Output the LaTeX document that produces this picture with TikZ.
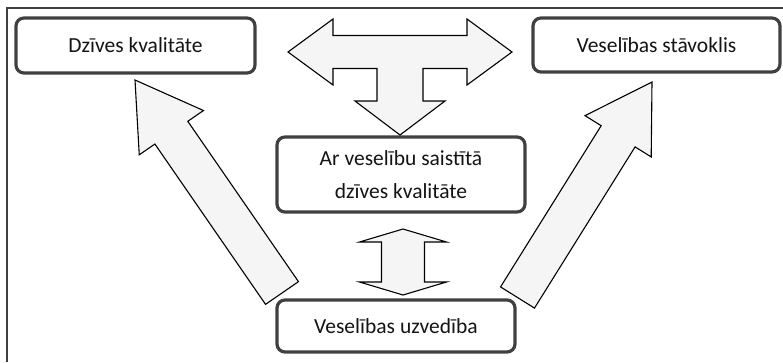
\documentclass[tikz,border=0pt]{standalone}
\usepackage{fontspec}
\setmainfont{Carlito}
\usepackage{xcolor}
\usepackage{tikz}
\usetikzlibrary{positioning, calc}
\definecolor{boxgray}{RGB}{64,64,64}
\definecolor{arrowfill}{RGB}{245,245,245}
\definecolor{textgray}{RGB}{20,20,20}

\begin{document}
\begin{tikzpicture}[x=1pt, y=-1pt,
    box/.style={rectangle, draw=boxgray, fill=white, line width=3.2pt, rounded corners=8pt, align=center, text=textgray, font=\fontsize{21.5}{33}\selectfont},
    barrow/.style={draw=black, fill=arrowfill, line width=1.1pt, line join=miter}
]
    \useasboundingbox (0,0) rectangle (783,362);

    % Frame
    \draw[boxgray, line width=1.6pt] (7,362) -- (7,8) -- (783,8);

    % Boxes
    \node[box, minimum width=239pt, minimum height=55pt] (dk) at (135.5,45.5) {Dzīves kvalitāte};
    \node[box, minimum width=247pt, minimum height=54pt] (vs) at (656.5,45) {Veselības stāvoklis};
    \node[box, minimum width=248pt, minimum height=75pt] (mid) at (401,174.5) {Ar veselību saistītā\\dzīves kvalitāte};
    \node[box, minimum width=238pt, minimum height=52pt] (vu) at (396,326) {Veselības uzvedība};

    % Arrow ends
    \coordinate (tee) at (400,52);
    \coordinate (dbl) at (403,262);
    \coordinate (ltail) at (282,293);
    \coordinate (ltip) at (135,80);
    \coordinate (rtail) at (517.5,297.5);
    \coordinate (rtip) at (652,82);
    \coordinate (lh) at ($(ltip)!64pt!(ltail)$);
    \coordinate (rh) at ($(rtip)!64pt!(rtail)$);

    % Three-way arrow
    \begin{scope}[shift={(tee)}]
        \draw[barrow] (-112,0) -- (-67,-33) -- (-67,-16.5) -- (67,-16.5) -- (67,-33) -- (112,0)
            -- (67,33) -- (67,16.5) -- (23,16.5) -- (23,49) -- (45,49) -- (0,83) -- (-45,49)
            -- (-23,49) -- (-23,16.5) -- (-67,16.5) -- (-67,33) -- cycle;
    \end{scope}

    % Double arrow
    \begin{scope}[shift={(dbl)}]
        \draw[barrow] (0,-33) -- (43.5,-20) -- (21.5,-20) -- (21.5,20) -- (43.5,20) -- (0,33)
            -- (-43.5,20) -- (-21.5,20) -- (-21.5,-20) -- (-43.5,-20) -- cycle;
    \end{scope}

    % Diagonal arrows
    \draw[barrow] ($(ltail)!20pt!90:(ltip)$) -- ($(lh)!20pt!90:(ltip)$) -- ($(lh)!39pt!90:(ltip)$)
        -- (ltip) -- ($(lh)!39pt!-90:(ltip)$) -- ($(lh)!20pt!-90:(ltip)$) -- ($(ltail)!20pt!-90:(ltip)$) -- cycle;
    \draw[barrow] ($(rtail)!20pt!90:(rtip)$) -- ($(rh)!20pt!90:(rtip)$) -- ($(rh)!39pt!90:(rtip)$)
        -- (rtip) -- ($(rh)!39pt!-90:(rtip)$) -- ($(rh)!20pt!-90:(rtip)$) -- ($(rtail)!20pt!-90:(rtip)$) -- cycle;

\end{tikzpicture}
\end{document}
